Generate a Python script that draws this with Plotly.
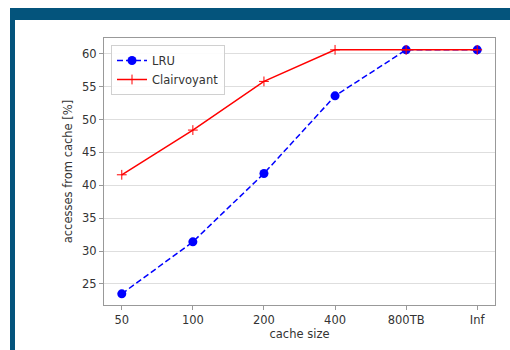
import plotly.graph_objects as go

categories = ["50", "100", "200", "400", "800TB", "Inf"]
lru = [23.5, 31.4, 41.8, 53.6, 60.6, 60.6]
clairvoyant = [41.6, 48.4, 55.8, 60.6, 60.6, 60.6]
y_ticks = [25, 30, 35, 40, 45, 50, 55, 60]

W, H = 510, 350
L, R, T, B = 104, 15, 38, 45
PW, PH = W - L - R, H - T - B

def px(x):
    return (x - L) / PW

def py(y):
    return (H - B - y) / PH

fig = go.Figure()
fig.add_trace(go.Scatter(
    x=categories, y=lru, name="LRU", mode="lines+markers",
    line=dict(color="#0000ff", width=1.5, dash="6px,3px"),
    marker=dict(symbol="circle", size=9, color="#0000ff"),
))
fig.add_trace(go.Scatter(
    x=categories, y=clairvoyant, name="Clairvoyant", mode="lines+markers",
    line=dict(color="#ff0000", width=1.5),
    marker=dict(symbol="cross-thin", size=7, line=dict(color="#ff0000", width=1), color="#ff0000"),
))

band = "#04547c"
fig.add_shape(type="rect", xref="paper", yref="paper",
              x0=px(10), x1=px(510), y0=py(20), y1=py(8),
              fillcolor=band, line=dict(width=0), layer="above")
fig.add_shape(type="rect", xref="paper", yref="paper",
              x0=px(10), x1=px(15), y0=py(350), y1=py(8),
              fillcolor=band, line=dict(width=0), layer="above")

fig.update_layout(
    width=W, height=H,
    margin=dict(l=L, r=R, t=T, b=B),
    paper_bgcolor="white", plot_bgcolor="white",
    font=dict(family="DejaVu Sans", size=11.5, color="#333333"),
    showlegend=True,
    legend=dict(x=px(111), y=py(45), xanchor="left", yanchor="top",
                bordercolor="#d0d0d0", borderwidth=1, bgcolor="rgba(255,255,255,0.9)",
                font=dict(size=11.5, color="#333333"), tracegroupgap=0),
    xaxis=dict(type="category", range=[-0.25, 5.25],
               showline=True, linecolor="#999999", linewidth=1, mirror=True,
               ticks="outside", ticklen=4, tickcolor="#999999",
               showgrid=False, zeroline=False,
               title=dict(text="cache size", standoff=4, font=dict(size=11.5))),
    yaxis=dict(range=[21.8, 62.4], tickvals=y_ticks,
               showline=True, linecolor="#999999", linewidth=1, mirror=True,
               ticks="outside", ticklen=4, tickcolor="#999999",
               showgrid=True, gridcolor="#dedede", gridwidth=1, zeroline=False,
               title=dict(text="accesses from cache [%]", standoff=7, font=dict(size=11.5))),
)

fig.write_html("out.html")
